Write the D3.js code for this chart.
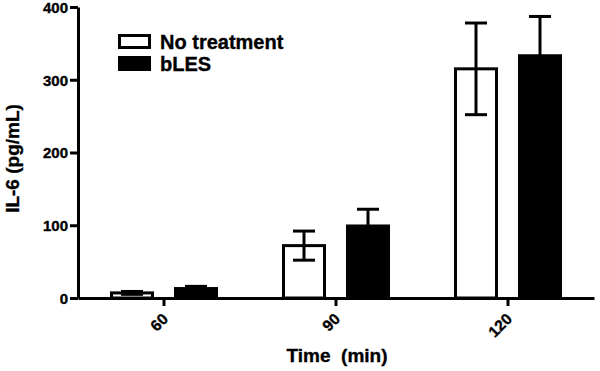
<!DOCTYPE html>
<html>
<head>
<meta charset="utf-8">
<script src="https://cdn.jsdelivr.net/npm/d3@7"></script>
<style>
  body { margin: 0; background: #fff; }
  text { font-family: "Liberation Sans", Arial, sans-serif; font-weight: bold; fill: #000; stroke: #000; stroke-width: 0.35px; }
</style>
</head>
<body>
<div id="chart"></div>
<script>
// data
const times = ["60", "90", "120"]
const series = ["No treatment", "bLES"]
const noTreatment = [7, 72, 315]
const noTreatmentErr = [2, 20, 63]
const bLES = [13, 99, 333]
const bLESErr = [3, 23, 54]
const yTicks = [0, 100, 200, 300, 400]

const width = 600
const height = 371
const margin = { top: 7, right: 6, bottom: 73, left: 78 }

const svg = d3.select("#chart")
    .append("svg")
    .attr("width", width)
    .attr("height", height)

const rows = times.map((t, i) => ({
    time: t,
    values: [
        { key: series[0], value: noTreatment[i], err: noTreatmentErr[i] },
        { key: series[1], value: bLES[i], err: bLESErr[i] }
    ]
}))

const x = d3.scaleBand()
    .domain(times)
    .range([margin.left, width - margin.right])

const xInner = d3.scaleBand()
    .domain(series)
    .range([-54, 54])
    .paddingInner(0.3125)

const y = d3.scaleLinear()
    .domain([0, 400])
    .range([height - margin.bottom, margin.top])

const colour = d3.scaleOrdinal()
    .domain(series)
    .range(["#fff", "#000"])

const sw = 3

// bars
const groups = svg.append("g")
    .selectAll("g")
    .data(rows)
    .join("g")
    .attr("transform", d => `translate(${x(d.time) + x.bandwidth() / 2},0)`)

groups.selectAll("rect")
    .data(d => d.values)
    .join("rect")
    .attr("x", d => xInner(d.key) + sw / 2)
    .attr("width", xInner.bandwidth() - sw)
    .attr("y", d => y(d.value))
    .attr("height", d => y(0) - y(d.value))
    .attr("fill", d => colour(d.key))
    .attr("stroke", "#000")
    .attr("stroke-width", sw)

// error bars
const err = groups.selectAll("g.err")
    .data(d => d.values)
    .join("g")
    .attr("class", "err")
    .attr("transform", d => `translate(${xInner(d.key) + xInner.bandwidth() / 2},0)`)
    .attr("stroke", "#000")
    .attr("stroke-width", sw)

err.append("line")
    .attr("y1", d => y(d.value - d.err))
    .attr("y2", d => y(d.value + d.err))
err.append("line")
    .attr("x1", -11).attr("x2", 11)
    .attr("y1", d => y(d.value + d.err))
    .attr("y2", d => y(d.value + d.err))
err.append("line")
    .attr("x1", -11).attr("x2", 11)
    .attr("y1", d => y(d.value - d.err))
    .attr("y2", d => y(d.value - d.err))

// axes
const yAxis = svg.append("g")
    .attr("transform", `translate(${margin.left},0)`)
    .call(d3.axisLeft(y).tickValues(yTicks).tickSize(8).tickPadding(2).tickSizeOuter(0))

yAxis.select(".domain").attr("stroke-width", sw)
yAxis.selectAll(".tick line").attr("stroke-width", sw)
yAxis.selectAll(".tick text")
    .style("font-size", "15px")
    .attr("dy", "0.36em")

const xAxis = svg.append("g")
    .attr("transform", `translate(0,${y(0)})`)
    .call(d3.axisBottom(x).tickSize(8).tickSizeOuter(0))

xAxis.select(".domain").attr("stroke-width", sw)
xAxis.selectAll(".tick line").attr("stroke-width", sw)
xAxis.selectAll(".tick text")
    .style("font-size", "15.5px")
    .attr("text-anchor", "end")
    .attr("y", 0)
    .attr("dy", 0)
    .attr("transform", "translate(5,22) rotate(-45)")

// axis titles
svg.append("text")
    .attr("x", (margin.left + width - margin.right) / 2 + 1)
    .attr("y", 362)
    .attr("text-anchor", "middle")
    .attr("xml:space", "preserve")
    .style("font-size", "19px")
    .text("Time  (min)")

svg.append("text")
    .attr("transform", `translate(19,${y(200) + 6}) rotate(-90)`)
    .attr("text-anchor", "middle")
    .style("font-size", "19px")
    .text("IL-6 (pg/mL)")

// legend
const legend = svg.append("g")
    .attr("transform", "translate(119,35)")

const legendItem = legend.selectAll("g")
    .data(series)
    .join("g")
    .attr("transform", (d, i) => `translate(0,${i * 22})`)

legendItem.append("rect")
    .attr("x", 0.5)
    .attr("y", 0.5)
    .attr("width", 30)
    .attr("height", 12)
    .attr("fill", d => colour(d))
    .attr("stroke", "#000")
    .attr("stroke-width", sw)

legendItem.append("text")
    .attr("x", 41)
    .attr("y", 13.5)
    .style("font-size", "20px")
    .text(d => d)
</script>
</body>
</html>
